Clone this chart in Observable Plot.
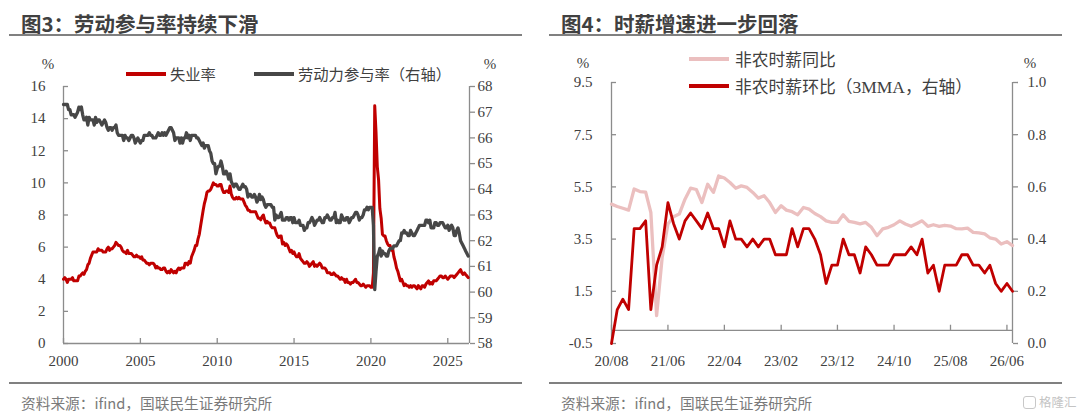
<!DOCTYPE html>
<html><head><meta charset="utf-8">
<script src="https://cdn.jsdelivr.net/npm/d3@7"></script>
<script src="https://cdn.jsdelivr.net/npm/@observablehq/plot@0.6"></script>
<style>
body{margin:0;background:#fff;}
#wrap{position:relative;width:1080px;height:414px;overflow:hidden;font-family:"Noto Sans CJK SC",sans-serif;background:#fff;}
.abs{position:absolute;white-space:nowrap;line-height:1;}
.title{font-size:20.5px;font-weight:bold;color:#404040;}
.hr{position:absolute;height:2px;background:#808080;}
.src{font-size:14.7px;color:#7a7a7a;}
.leg{font-size:15.3px;color:#404040;}
.leg2{font-size:16.8px;color:#404040;}
.sw{position:absolute;height:4px;}
.pct{font-family:"Liberation Serif",serif;font-size:15px;color:#404040;transform:translate(-50%,-50%);}
.serif{font-family:"Liberation Serif",serif;font-size:17.5px;}
.plot{position:absolute;top:0;}
.wm{position:absolute;border:1.5px solid #c8c8c8;border-radius:3px;width:11px;height:11px;}
</style></head>
<body><div id="wrap"></div>
<script>
// ---------- 图3 data (monthly, from 2000-01) ----------
const unempStart = [2000, 1];
const unemp = [
 4.0,4.1,4.0,3.8,4.0,4.0,4.0,4.1,3.9,3.9,3.9,3.9,
 4.2,4.2,4.3,4.4,4.3,4.5,4.6,4.9,5.0,5.3,5.5,5.7,
 5.7,5.7,5.7,5.9,5.8,5.8,5.8,5.7,5.7,5.7,5.9,6.0,
 5.8,5.9,5.9,6.0,6.1,6.3,6.2,6.1,6.1,6.0,5.8,5.7,
 5.7,5.6,5.8,5.6,5.6,5.6,5.5,5.4,5.4,5.5,5.4,5.4,
 5.3,5.4,5.2,5.2,5.1,5.0,5.0,4.9,5.0,5.0,5.0,4.9,
 4.7,4.8,4.7,4.7,4.6,4.6,4.7,4.7,4.5,4.4,4.5,4.4,
 4.6,4.5,4.4,4.5,4.4,4.6,4.7,4.6,4.7,4.7,4.7,5.0,
 5.0,4.9,5.1,5.0,5.4,5.6,5.8,6.1,6.1,6.5,6.8,7.3,
 7.8,8.3,8.7,9.0,9.4,9.5,9.5,9.6,9.8,10.0,9.9,9.9,
 9.8,9.8,9.9,9.9,9.6,9.4,9.4,9.5,9.5,9.4,9.8,9.3,
 9.1,9.0,9.0,9.1,9.0,9.1,9.0,9.0,9.0,8.8,8.6,8.5,
 8.3,8.3,8.2,8.2,8.2,8.2,8.2,8.0,7.8,7.8,7.7,7.9,
 8.0,7.7,7.5,7.6,7.5,7.5,7.3,7.2,7.2,7.2,6.9,6.7,
 6.6,6.7,6.7,6.2,6.3,6.1,6.2,6.1,5.9,5.7,5.8,5.6,
 5.7,5.5,5.4,5.4,5.6,5.3,5.2,5.1,5.0,5.0,5.1,5.0,
 4.8,4.9,5.0,5.1,4.8,4.9,4.8,4.9,5.0,4.9,4.7,4.7,
 4.7,4.6,4.4,4.4,4.4,4.3,4.3,4.4,4.3,4.2,4.2,4.1,
 4.0,4.1,4.0,4.0,3.8,4.0,3.8,3.8,3.7,3.8,3.8,3.9,
 4.0,3.8,3.8,3.7,3.6,3.6,3.7,3.6,3.5,3.6,3.6,3.6,
 3.5,3.5,4.4,14.8,13.2,11.0,10.2,8.4,7.8,6.8,6.7,6.7,
 6.4,6.2,6.1,6.1,5.8,5.9,5.4,5.1,4.7,4.5,4.2,3.9,
 4.0,3.8,3.6,3.7,3.6,3.6,3.5,3.6,3.5,3.6,3.6,3.5,
 3.4,3.6,3.5,3.4,3.6,3.6,3.5,3.7,3.8,3.9,3.7,3.8,
 3.7,3.9,3.9,3.9,4.0,4.1,4.2,4.2,4.1,4.1,4.2,4.1,
 4.0,4.1,4.2,4.2,4.2,4.1,4.2,4.3,4.4,4.5,4.6,4.4,
 4.3,4.4,4.3,4.2,4.1
];
const lfpr = [
 67.3,67.3,67.3,67.3,67.1,67.1,66.9,66.9,66.9,66.8,66.9,67.0,
 67.2,67.1,67.2,66.9,66.7,66.7,66.8,66.5,66.8,66.7,66.7,66.7,
 66.5,66.8,66.6,66.7,66.7,66.6,66.5,66.6,66.7,66.6,66.4,66.3,
 66.4,66.4,66.3,66.4,66.4,66.5,66.2,66.1,66.1,66.1,66.1,65.9,
 66.1,66.0,66.0,65.9,66.0,66.1,66.1,66.0,65.8,65.9,66.0,65.9,
 65.8,65.9,65.9,66.1,66.1,66.1,66.1,66.2,66.1,66.1,66.0,66.0,
 66.0,66.1,66.2,66.1,66.1,66.2,66.1,66.2,66.1,66.2,66.3,66.4,
 66.4,66.3,66.2,65.9,66.0,66.0,66.0,65.8,66.0,65.8,66.0,66.0,
 66.2,66.0,66.1,65.9,66.1,66.1,66.1,66.1,66.0,66.0,65.9,65.8,
 65.7,65.8,65.6,65.7,65.7,65.7,65.5,65.4,65.1,65.0,65.0,64.6,
 64.8,64.9,64.9,65.1,64.9,64.6,64.6,64.7,64.6,64.4,64.6,64.3,
 64.2,64.1,64.2,64.2,64.1,64.0,64.0,64.1,64.2,64.1,64.1,64.0,
 63.7,63.8,63.8,63.7,63.7,63.8,63.7,63.5,63.6,63.8,63.6,63.7,
 63.6,63.4,63.3,63.4,63.4,63.4,63.4,63.3,63.3,62.8,63.0,62.9,
 62.9,63.0,63.1,62.8,62.8,62.8,62.9,62.9,62.8,62.9,62.9,62.7,
 62.9,62.7,62.7,62.7,62.8,62.6,62.6,62.6,62.4,62.5,62.5,62.7,
 62.7,62.8,62.9,62.8,62.6,62.7,62.8,62.8,62.9,62.8,62.7,62.7,
 62.9,62.9,63.0,62.9,62.8,62.8,62.9,62.9,63.1,62.7,62.8,62.7,
 62.7,63.0,62.9,62.8,62.8,62.9,62.9,62.7,62.8,62.9,62.9,63.0,
 63.1,63.1,63.0,62.8,62.9,62.9,63.0,63.2,63.2,63.3,63.2,63.3,
 63.3,63.3,62.6,60.1,60.8,61.4,61.5,61.7,61.4,61.6,61.5,61.5,
 61.4,61.4,61.6,61.7,61.7,61.7,61.8,61.8,61.8,61.9,62.0,62.0,
 62.3,62.3,62.4,62.3,62.3,62.2,62.2,62.4,62.3,62.2,62.2,62.3,
 62.4,62.5,62.6,62.6,62.6,62.6,62.6,62.8,62.8,62.7,62.8,62.5,
 62.5,62.5,62.7,62.7,62.6,62.6,62.7,62.7,62.7,62.6,62.5,62.5,
 62.6,62.4,62.5,62.6,62.5,62.2,62.2,62.4,62.5,62.3,62.0,61.9,
 61.8,61.7,61.6,61.5,61.4
];
const fig3YearTicks = [2000, 2005, 2010, 2015, 2020, 2025];
const fig3LeftTicks = [0, 2, 4, 6, 8, 10, 12, 14, 16];
const fig3RightTicks = [58, 59, 60, 61, 62, 63, 64, 65, 66, 67, 68];
const fig3Domain = ["2000-01", "2026-06"];

// ---------- 图4 data (monthly, from 2020-08) ----------
const wageStart = [2020, 8];
const wageYoY = [
 4.84,4.75,4.68,4.61,5.42,5.32,5.30,4.52,0.57,2.80,
 4.08,4.36,4.46,5.03,5.45,5.40,4.90,5.60,5.29,5.92,
 5.84,5.67,5.45,5.54,5.48,5.29,5.07,5.16,4.90,4.52,
 4.78,4.61,4.55,4.43,4.71,4.65,4.48,4.36,4.20,4.14,
 4.14,4.43,4.18,4.14,4.08,4.14,3.95,3.63,3.89,3.95,
 4.05,4.20,4.08,3.99,4.10,4.20,3.99,4.05,3.99,4.03,
 4.00,3.90,3.89,3.92,3.76,3.74,3.70,3.55,3.50,3.31,
 3.40,3.25
];
const wageMoM3 = [
 0.00,0.13,0.17,0.13,0.44,0.44,0.47,0.13,0.30,0.37,
 0.54,0.46,0.40,0.47,0.50,0.47,0.44,0.50,0.44,0.44,
 0.37,0.47,0.40,0.40,0.37,0.40,0.37,0.40,0.40,0.34,
 0.34,0.34,0.44,0.37,0.44,0.44,0.40,0.34,0.23,0.30,
 0.30,0.40,0.34,0.34,0.27,0.37,0.34,0.30,0.30,0.30,
 0.34,0.34,0.34,0.37,0.34,0.40,0.27,0.30,0.20,0.30,
 0.30,0.30,0.34,0.34,0.30,0.30,0.27,0.30,0.23,0.20,
 0.23,0.20
];
const wageTickLabels = ["20/08","21/06","22/04","23/02","23/12","24/10","25/08","26/06"];
const wageLeftTicks = [-0.5, 1.5, 3.5, 5.5, 7.5, 9.5];
const wageRightTicks = [0, 0.2, 0.4, 0.6, 0.8, 1.0];

// ---------- helpers ----------
const RED = "#C00000", GRAY = "#474747", PINK = "#EBBFBF", AX = "#8c8c8c", TXT = "#404040";
const md = (y, m, i = 0) => new Date(Date.UTC(y, m - 1 + i, 1));
const ym = s => { const [y, m] = s.split("-").map(Number); return md(y, m); };
const style = {fontFamily: '"Liberation Serif", "Times New Roman", serif', fontSize: "15px", color: TXT, background: "transparent", overflow: "visible"};
const axLine = {stroke: AX, strokeWidth: 1.3};

// ---------- 图3 plot ----------
const d3data = unemp.map((v, i) => ({date: md(unempStart[0], unempStart[1], i), u: v, p: lfpr[i]}));
const toL = v => (v - 58) * 1.6;
const x3 = fig3Domain.map(ym);
const yearDates = fig3YearTicks.map(y => md(y, 1));

const fig3 = Plot.plot({
  width: 540, height: 414,
  marginTop: 86, marginBottom: 71, marginLeft: 63, marginRight: 71,
  style,
  x: {type: "utc", domain: x3, axis: null},
  y: {domain: [0, 16], axis: null},
  marks: [
    Plot.ruleX([x3[0]], axLine),
    Plot.ruleX([x3[1]], axLine),
    Plot.ruleY([0], axLine),
    Plot.axisY(fig3LeftTicks, {anchor: "left", tickSize: 5, dx: 5, fill: "none", stroke: AX, strokeWidth: 1.3, label: null}),
    Plot.axisY(fig3LeftTicks, {anchor: "left", tickSize: 0, tickPadding: 18, fill: TXT, label: null}),
    Plot.axisY(fig3RightTicks.map(toL), {anchor: "right", tickSize: 5, tickPadding: 3, stroke: AX, strokeWidth: 1.3, fill: TXT, label: null,
      tickFormat: d => String(Math.round(d / 1.6 + 58))}),
    Plot.axisX(yearDates, {anchor: "bottom", tickSize: 5, dy: -5, fill: "none", stroke: AX, strokeWidth: 1.3, label: null}),
    Plot.axisX(yearDates, {anchor: "bottom", tickSize: 0, tickPadding: 12, fill: TXT, label: null, tickFormat: d => String(d.getUTCFullYear())}),
    Plot.line(d3data, {x: "date", y: "u", stroke: RED, strokeWidth: 3}),
    Plot.line(d3data, {x: "date", y: d => toL(d.p), stroke: GRAY, strokeWidth: 3.3})
  ]
});

// ---------- 图4 plot ----------
const wdata = wageYoY.map((v, i) => ({date: md(wageStart[0], wageStart[1], i), yoy: v, mom: wageMoM3[i]}));
const toW = r => r * 10 - 0.5;
const x4 = [wdata[0].date, wdata[wdata.length - 1].date];
const wTickDates = wageTickLabels.map(s => { const [yy, mm] = s.split("/").map(Number); return md(2000 + yy, mm); });
const wLabel = new Map(wTickDates.map((d, i) => [d.getTime(), wageTickLabels[i]]));

const fig4 = Plot.plot({
  width: 540, height: 414,
  marginTop: 82, marginBottom: 71, marginLeft: 71, marginRight: 68,
  style,
  x: {type: "utc", domain: x4, axis: null},
  y: {domain: [-0.5, 9.5], axis: null},
  marks: [
    Plot.ruleX([x4[0]], axLine),
    Plot.ruleX([x4[1]], axLine),
    Plot.ruleY([0], axLine),
    Plot.ruleX(wTickDates, {x: d => d, y1: 0, y2: 0.2, ...axLine}),
    Plot.axisY(wageLeftTicks, {anchor: "left", tickSize: 5, dx: 5, fill: "none", stroke: AX, strokeWidth: 1.3, label: null}),
    Plot.axisY(wageLeftTicks, {anchor: "left", tickSize: 0, tickPadding: 19, fill: TXT, label: null, tickFormat: d => d.toFixed(1)}),
    Plot.axisY(wageRightTicks.map(toW), {anchor: "right", tickSize: 5, tickPadding: 10, stroke: AX, strokeWidth: 1.3, fill: TXT, label: null,
      tickFormat: d => ((d + 0.5) / 10).toFixed(1)}),
    Plot.axisX(wTickDates, {anchor: "bottom", tickSize: 0, tickPadding: 12, fill: TXT, label: null, tickFormat: d => wLabel.get(d.getTime())}),
    Plot.line(wdata, {x: "date", y: "yoy", stroke: PINK, strokeWidth: 3.3}),
    Plot.line(wdata, {x: "date", y: d => toW(d.mom), stroke: RED, strokeWidth: 2.8})
  ]
});

// ---------- layout ----------
const wrap = document.getElementById("wrap");
function place(el, left) { const d = document.createElement("div"); d.className = "plot"; d.style.left = left + "px"; d.appendChild(el); wrap.appendChild(d); }
place(fig3, 0);
place(fig4, 540);

function div(cls, left, top, html, extra = {}) {
  const d = document.createElement("div");
  d.className = "abs " + cls;
  d.style.left = left + "px"; d.style.top = top + "px";
  d.innerHTML = html;
  Object.assign(d.style, extra);
  wrap.appendChild(d);
  return d;
}
function sw(left, top, width, color) {
  const d = document.createElement("div");
  d.className = "sw"; d.style.left = left + "px"; d.style.top = top + "px"; d.style.width = width + "px"; d.style.background = color;
  wrap.appendChild(d);
}
function hr(left, top, width) {
  const d = document.createElement("div");
  d.className = "hr"; d.style.left = left + "px"; d.style.top = top + "px"; d.style.width = width + "px";
  wrap.appendChild(d);
}

// titles and rules
div("title", 21, 12.5, "图3：劳动参与率持续下滑");
div("title", 561, 12.5, "图4：时薪增速进一步回落");
hr(9, 34, 513); hr(549, 34, 513);
hr(9, 382, 513); hr(549, 382, 513);
div("src", 21, 395.5, "资料来源：ifind，国联民生证券研究所");
div("src", 561, 395.5, "资料来源：ifind，国联民生证券研究所");
const wm = document.createElement("div"); wm.className = "wm"; wm.style.left = "1023px"; wm.style.top = "396px"; wrap.appendChild(wm);
div("src", 1039, 396, "格隆汇", {color: "#c4c4c4", fontSize: "12.5px"});

// % units
div("pct", 48, 64, "%");
div("pct", 490, 64, "%");
div("pct", 583, 63, "%");
div("pct", 1030, 63, "%");

// legends
sw(126, 72, 40, RED);  div("leg", 170, 66, "失业率");
sw(254, 72, 40, GRAY); div("leg", 298, 66, "劳动力参与率（右轴）");
sw(689, 57, 40, PINK); div("leg2", 735, 50.5, "非农时薪同比");
sw(689, 84, 40, RED);  div("leg2", 735, 77.5, '非农时薪环比（<span class="serif">3MMA</span>，右轴）');
</script>
</body></html>
